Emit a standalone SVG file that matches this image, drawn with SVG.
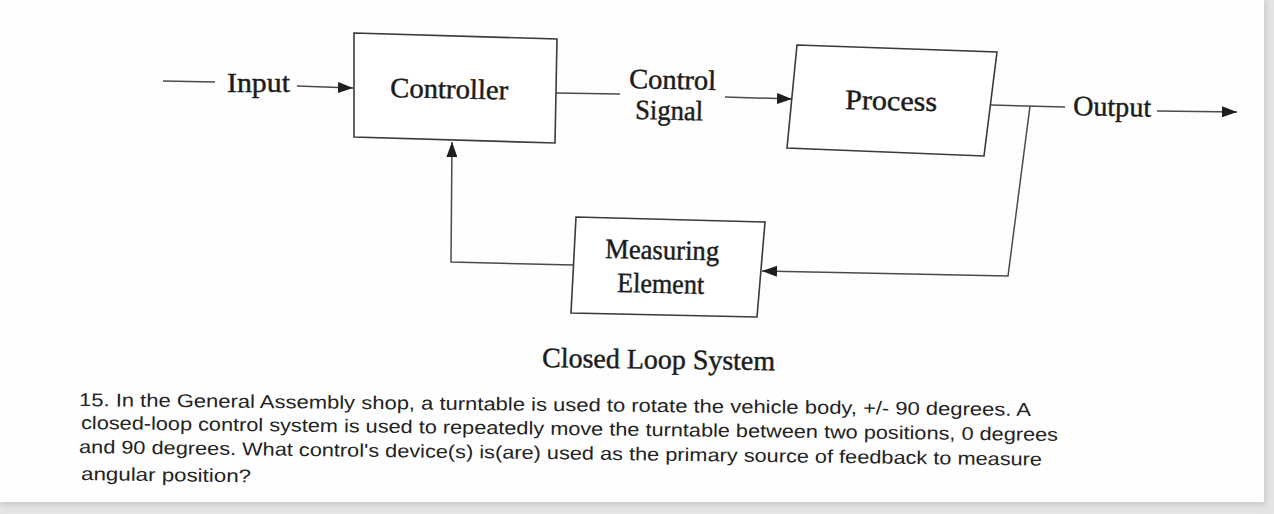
<svg xmlns="http://www.w3.org/2000/svg" width="1274" height="514" viewBox="0 0 1274 514">
  <style>
    .box { fill: #ffffff; stroke: #3a3a3a; stroke-width: 1.6; stroke-linejoin: miter; }
    .conn { fill: none; stroke: #4a4a4a; stroke-width: 1.5; }
    .lbl { font-family: "Liberation Serif", "Times New Roman", serif; font-size: 28px; fill: #1c1c1c; stroke: #1c1c1c; stroke-width: 0.45; }
    .para { font-family: "Liberation Sans", Arial, sans-serif; font-size: 18.5px; fill: #222222; }
  </style>
  <defs>
    <marker id="arrow" markerUnits="userSpaceOnUse" markerWidth="15" markerHeight="11" refX="15" refY="5.5" orient="auto">
      <path d="M0,0 L15,5.5 L0,11 Z" fill="#1e1e1e"/>
    </marker>
    <filter id="shadow" x="-5%" y="-5%" width="110%" height="110%">
      <feGaussianBlur stdDeviation="3"/>
    </filter>
  </defs>

  <!-- background and page -->
  <rect x="0" y="0" width="1274" height="514" fill="#e5e5e5"/>
  <rect x="0" y="0" width="1266" height="505" fill="#c9c9c9" filter="url(#shadow)"/>
  <rect x="0" y="0" width="1264" height="502" fill="#fefefe"/>

  <!-- connectors -->
  <g id="connectors">
    <line class="conn" x1="163" y1="81" x2="215" y2="82"/>
    <line class="conn" x1="297" y1="86" x2="353" y2="88" marker-end="url(#arrow)"/>
    <line class="conn" x1="556" y1="93" x2="620" y2="94"/>
    <line class="conn" x1="725" y1="97" x2="792" y2="99" marker-end="url(#arrow)"/>
    <line class="conn" x1="991" y1="105" x2="1065" y2="107"/>
    <line class="conn" x1="1157" y1="111" x2="1237" y2="112" marker-end="url(#arrow)"/>
    <polyline class="conn" points="1030,106 1008,276 762,271" marker-end="url(#arrow)"/>
    <polyline class="conn" points="574,265 451,262 452,142" marker-end="url(#arrow)"/>
  </g>

  <!-- nodes -->
  <g id="controller">
    <polygon class="box" points="354,33 557,39 555,143 354,137"/>
    <text class="lbl" x="390" y="97" textLength="118" lengthAdjust="spacingAndGlyphs" transform="rotate(1.2 390 97)">Controller</text>
  </g>
  <g id="process">
    <polygon class="box" points="797,45 997,52 984,156 787,148"/>
    <text class="lbl" x="845" y="109" textLength="92" lengthAdjust="spacingAndGlyphs" transform="rotate(1.2 845 109)">Process</text>
  </g>
  <g id="measuring">
    <polygon class="box" points="576,217 765,222 757,317 571,313"/>
    <text class="lbl" x="605" y="258" textLength="114" lengthAdjust="spacingAndGlyphs" transform="rotate(1.2 605 258)">Measuring</text>
    <text class="lbl" x="617" y="292" textLength="87" lengthAdjust="spacingAndGlyphs" transform="rotate(1.2 617 292)">Element</text>
  </g>

  <!-- connector labels -->
  <g id="labels">
    <text class="lbl" x="227" y="92" textLength="63" lengthAdjust="spacingAndGlyphs">Input</text>
    <text class="lbl" x="629" y="88" textLength="87" lengthAdjust="spacingAndGlyphs" transform="rotate(1.2 629 88)">Control</text>
    <text class="lbl" x="635" y="119" textLength="68" lengthAdjust="spacingAndGlyphs" transform="rotate(1.2 635 119)">Signal</text>
    <text class="lbl" x="1073" y="115" textLength="78" lengthAdjust="spacingAndGlyphs" transform="rotate(1.2 1073 115)">Output</text>
  </g>

  <!-- caption -->
  <text class="lbl" x="542" y="367" textLength="233" lengthAdjust="spacingAndGlyphs" transform="rotate(0.8 542 367)">Closed Loop System</text>

  <!-- question text -->
  <g id="question">
    <text class="para" x="79" y="406" textLength="952" lengthAdjust="spacingAndGlyphs" transform="rotate(0.6 79 406)">15. In the General Assembly shop, a turntable is used to rotate the vehicle body, +/- 90 degrees. A</text>
    <text class="para" x="81" y="429" textLength="977" lengthAdjust="spacingAndGlyphs" transform="rotate(0.7 81 429)">closed-loop control system is used to repeatedly move the turntable between two positions, 0 degrees</text>
    <text class="para" x="79" y="453" textLength="963" lengthAdjust="spacingAndGlyphs" transform="rotate(0.75 79 453)">and 90 degrees. What control's device(s) is(are) used as the primary source of feedback to measure</text>
    <text class="para" x="81" y="480" textLength="170" lengthAdjust="spacingAndGlyphs" transform="rotate(0.8 81 480)">angular position?</text>
  </g>
</svg>
